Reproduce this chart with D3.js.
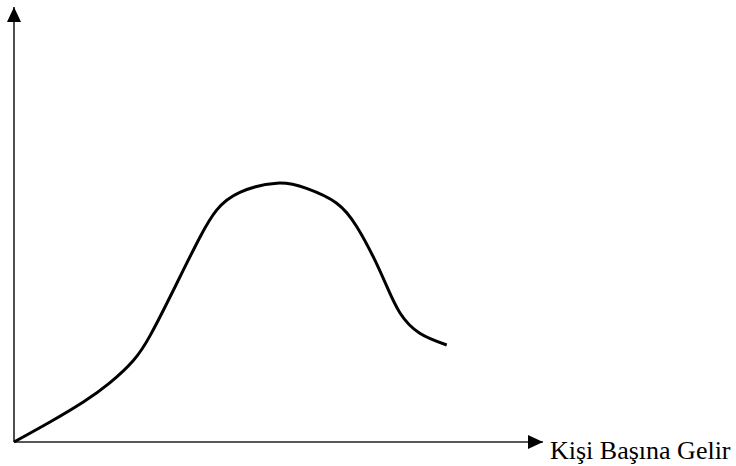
<!DOCTYPE html>
<html>
<head>
<meta charset="utf-8">
<script src="https://cdn.jsdelivr.net/npm/d3@7"></script>
<style>
  body { margin: 0; background: #fff; }
  svg { display: block; }
</style>
</head>
<body>
<div id="chart"></div>
<script>
var W = 736, H = 466;

// curve, in axis units (0-100 on both axes)
var gelir  = [0, 6.8, 13.1, 18.1, 22.6, 25.7, 28.9, 32.0, 35.2, 38.3, 42.7, 49.7, 55.3, 61.0, 64.8, 67.9, 70.5, 73.0, 76.7, 81.8];
var deger  = [0, 4.6, 9.2, 13.6, 18.8, 24.4, 31.9, 39.5, 47.2, 53.3, 57.4, 59.5, 58.3, 54.9, 49.5, 42.6, 35.7, 29.6, 25.0, 22.3];
var xLabel = "Kişi Başına Gelir";

var svg = d3.select("#chart").append("svg")
    .attr("width", W)
    .attr("height", H);

var x = d3.scaleLinear().domain([0, 100]).range([14, 543]);
var y = d3.scaleLinear().domain([0, 100]).range([442, 7]);

// arrow heads
var defs = svg.append("defs");
defs.append("marker")
    .attr("id", "ok")
    .attr("viewBox", "0 0 15 14")
    .attr("refX", 15).attr("refY", 7)
    .attr("markerUnits", "userSpaceOnUse")
    .attr("markerWidth", 15).attr("markerHeight", 14)
    .attr("orient", "auto")
  .append("path")
    .attr("d", "M0,0 L15,7 L0,14 Z")
    .attr("fill", "#000");

var xAxis = d3.axisBottom(x).ticks(0).tickSizeOuter(0);
var yAxis = d3.axisLeft(y).ticks(0).tickSizeOuter(0);

svg.append("g")
    .attr("class", "x axis")
    .attr("transform", "translate(0," + y(0) + ")")
    .call(xAxis)
    .select(".domain")
    .attr("stroke", "#222")
    .attr("stroke-width", 1.6)
    .attr("d", "M" + x(0) + ",0H" + x(100))
    .attr("marker-end", "url(#ok)");

svg.append("g")
    .attr("class", "y axis")
    .attr("transform", "translate(" + x(0) + ",0)")
    .call(yAxis)
    .select(".domain")
    .attr("stroke", "#222")
    .attr("stroke-width", 1.6)
    .attr("d", "M0," + y(0) + "V" + y(100))
    .attr("marker-end", "url(#ok)");

var line = d3.line()
    .x(d => x(d[0]))
    .y(d => y(d[1]))
    .curve(d3.curveNatural);

svg.append("path")
    .datum(d3.zip(gelir, deger))
    .attr("fill", "none")
    .attr("stroke", "#000")
    .attr("stroke-width", 3)
    .attr("stroke-linecap", "butt")
    .attr("d", line);

svg.append("text")
    .attr("x", x(100) + 7)
    .attr("y", y(0) + 17)
    .style("font-family", "'Liberation Serif', 'Times New Roman', serif")
    .style("font-size", "26px")
    .style("fill", "#000")
    .text(xLabel);
</script>
</body>
</html>
